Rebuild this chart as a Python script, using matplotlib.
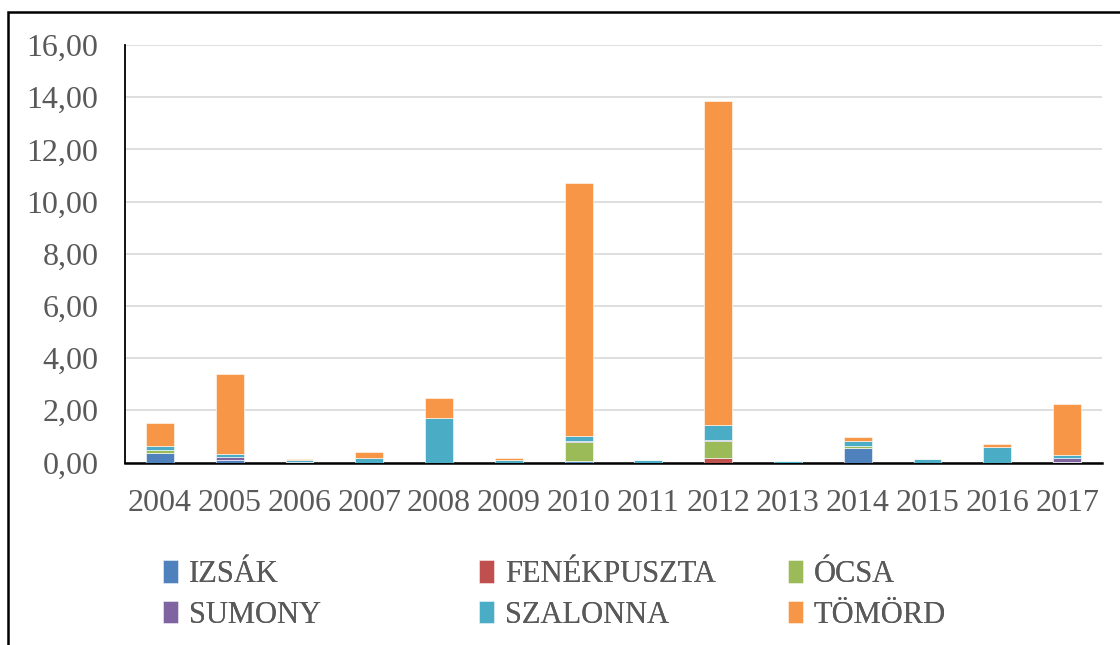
import matplotlib.pyplot as plt
import numpy as np
from matplotlib.patches import Rectangle

years = ['2004', '2005', '2006', '2007', '2008', '2009', '2010',
         '2011', '2012', '2013', '2014', '2015', '2016', '2017']

# stacked series, bottom to top
izsak = [0.37, 0.10, 0.00, 0.00, 0.00, 0.00, 0.05, 0.00, 0.00, 0.00, 0.56, 0.00, 0.00, 0.02]
fenekpuszta = [0.00, 0.00, 0.00, 0.00, 0.00, 0.00, 0.00, 0.00, 0.17, 0.00, 0.00, 0.00, 0.00, 0.00]
ocsa = [0.09, 0.00, 0.02, 0.00, 0.00, 0.00, 0.74, 0.00, 0.65, 0.00, 0.09, 0.00, 0.00, 0.00]
sumony = [0.02, 0.12, 0.00, 0.00, 0.00, 0.00, 0.02, 0.00, 0.05, 0.00, 0.00, 0.00, 0.00, 0.15]
szalonna = [0.15, 0.10, 0.08, 0.18, 1.72, 0.10, 0.20, 0.09, 0.58, 0.05, 0.17, 0.13, 0.60, 0.12]
tomord = [0.88, 3.08, 0.03, 0.24, 0.77, 0.06, 9.69, 0.00, 12.40, 0.00, 0.14, 0.00, 0.09, 1.96]

series = [izsak, fenekpuszta, ocsa, sumony, szalonna, tomord]
names = ['IZSÁK', 'FENÉKPUSZTA', 'ÓCSA', 'SUMONY', 'SZALONNA', 'TÖMÖRD']
colors = ['#4F81BD', '#C0504D', '#9BBB59', '#8064A2', '#4BACC6', '#F79646']

plt.rcParams['font.family'] = ['Liberation Serif', 'DejaVu Serif']
txt = '#595959'

fig = plt.figure(figsize=(11.2, 6.45), dpi=100)
ax = fig.add_axes([125 / 1120, 1 - 462.5 / 645, (1102 - 125) / 1120, (462.5 - 45) / 645])

x = np.arange(len(years))
bottom = np.zeros(len(years))
handles = []
for vals, name, col in zip(series, names, colors):
    b = ax.bar(x, vals, 0.4, bottom=bottom, color=col, edgecolor='white',
               linewidth=0.4, label=name, zorder=3)
    handles.append(b)
    bottom += np.array(vals)

ax.set_ylim(0, 16)
ax.set_xlim(-0.5, len(years) - 0.5)
ax.set_yticks(np.arange(0, 17, 2))
ax.set_yticklabels([f'{v:.2f}'.replace('.', ',') for v in np.arange(0, 17, 2)])
ax.set_xticks(x)
ax.set_xticklabels(years)
ax.tick_params(axis='both', length=0, labelsize=23, labelcolor=txt)
ax.tick_params(axis='x', pad=19)
ax.tick_params(axis='y', pad=19)
ax.yaxis.grid(True, color='#d9d9d9', linewidth=1.2, zorder=0)
for s in ['top', 'right']:
    ax.spines[s].set_visible(False)
ax.spines['left'].set_color('black')
ax.spines['bottom'].set_color('black')
ax.spines['left'].set_linewidth(1.3)
ax.spines['bottom'].set_linewidth(1.8)

# legend: 3 columns placed like the Excel layout (row-wise order)
col_x = [163, 479, 788]
for c in range(3):
    idx = [c, c + 3]
    leg = fig.legend(handles=[handles[i] for i in idx], labels=[names[i] for i in idx],
                     loc='upper left', bbox_to_anchor=(col_x[c] / 1120, 1 - 560 / 645),
                     frameon=False, fontsize=22, handlelength=0.5, handleheight=0.75,
                     handletextpad=0.35, labelspacing=0.38, borderpad=0, borderaxespad=0)
    for t in leg.get_texts():
        t.set_color(txt)
    fig.add_artist(leg)

# outer chart frame
fig.patches.append(Rectangle((8 / 1120, -0.1), 1.2, 1 - 12 / 645 + 0.1,
                             transform=fig.transFigure, fill=False,
                             edgecolor='black', linewidth=1.8))

fig.savefig('out.png', dpi=100)
